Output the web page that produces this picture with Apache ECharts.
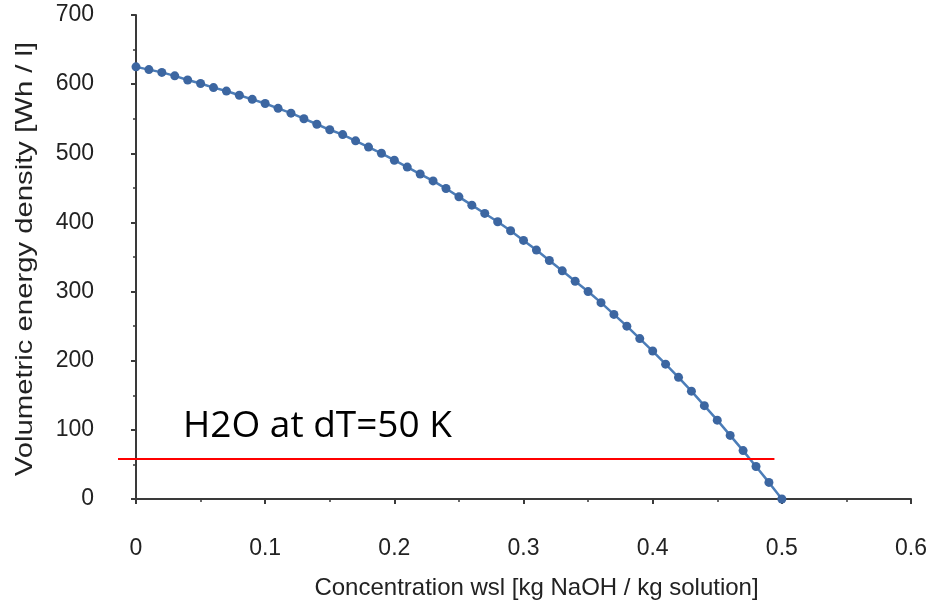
<!DOCTYPE html>
<html>
<head>
<meta charset="utf-8">
<script src="https://cdn.jsdelivr.net/npm/echarts@6/dist/echarts.min.js"></script>
<style>
  html, body { margin: 0; padding: 0; background: #fff; }
  #chart { width: 930px; height: 608px; }
</style>
</head>
<body>
<div id="chart"></div>
<script>
// concentration wsl [kg NaOH / kg solution]
var concentration = [
  0.00, 0.01, 0.02, 0.03, 0.04, 0.05, 0.06, 0.07, 0.08, 0.09,
  0.10, 0.11, 0.12, 0.13, 0.14, 0.15, 0.16, 0.17, 0.18, 0.19,
  0.20, 0.21, 0.22, 0.23, 0.24, 0.25, 0.26, 0.27, 0.28, 0.29,
  0.30, 0.31, 0.32, 0.33, 0.34, 0.35, 0.36, 0.37, 0.38, 0.39,
  0.40, 0.41, 0.42, 0.43, 0.44, 0.45, 0.46, 0.47, 0.48, 0.49,
  0.50
];
// volumetric energy density [Wh / l]
var energyDensity = [
  625, 621, 617, 612, 606, 601, 595, 590, 584, 578,
  572, 565, 558, 550, 542, 534, 527, 518, 509, 500,
  490, 480, 470, 460, 449, 437, 425, 413, 401, 388,
  374, 360, 345, 330, 315, 300, 284, 267, 250, 232,
  214, 195, 176, 156, 135, 114, 92, 70, 47, 24,
  0
];
// H2O reference line (starts a little left of the y axis)
var h2oLineX = [-0.0139, 0.493];
var h2oLineY = 58;
var h2oLabel = 'H2O at dT=50 K';

var xTicks = { min: 0, max: 0.6, interval: 0.1 };
var yTicks = { min: 0, max: 700, interval: 100 };

var labelFont = '"Liberation Sans", Arial, Helvetica, sans-serif';
var axisColor = '#3a3a3a';

var chart = echarts.init(document.getElementById('chart'));

var curve = concentration.map(function (c, i) { return [c, energyDensity[i]]; });
var h2o = h2oLineX.map(function (x) { return [x, h2oLineY]; });

chart.setOption({
  animation: false,
  grid: [
    { left: 136, right: 17, top: 15, bottom: 109 },
    // same plot area, widened to the left so the red line can start before x = 0
    { left: 118, right: 17, top: 15, bottom: 109 }
  ],
  xAxis: [
    {
      type: 'value',
      gridIndex: 0,
      min: xTicks.min, max: xTicks.max, interval: xTicks.interval,
      name: 'Concentration wsl [kg NaOH / kg solution]',
      nameLocation: 'middle',
      nameGap: 77,
      nameTextStyle: { fontFamily: labelFont, fontSize: 24, color: '#222', padding: [0, 0, 0, 26] },
      axisLine: { lineStyle: { color: axisColor, width: 2 } },
      axisTick: { inside: false, length: 5, lineStyle: { color: axisColor, width: 2 } },
      minorTick: { show: true, splitNumber: 2, length: 3, lineStyle: { color: axisColor, width: 1.5 } },
      axisLabel: { margin: 38, fontFamily: labelFont, fontSize: 23, color: '#222' },
      splitLine: { show: false }
    },
    {
      type: 'value',
      gridIndex: 1,
      show: false,
      min: h2oLineX[0], max: xTicks.max
    }
  ],
  yAxis: [
    {
      type: 'value',
      gridIndex: 0,
      min: yTicks.min, max: yTicks.max, interval: yTicks.interval,
      axisLine: { lineStyle: { color: axisColor, width: 2 } },
      axisTick: { inside: false, length: 5, lineStyle: { color: axisColor, width: 2 } },
      minorTick: { show: true, splitNumber: 2, length: 3, lineStyle: { color: axisColor, width: 1.5 } },
      axisLabel: { margin: 42, fontFamily: labelFont, fontSize: 23, color: '#222' },
      splitLine: { show: false }
    },
    {
      type: 'value',
      gridIndex: 1,
      show: false,
      min: yTicks.min, max: yTicks.max
    }
  ],
  series: [
    {
      type: 'line',
      xAxisIndex: 0, yAxisIndex: 0,
      data: curve,
      symbol: 'circle',
      symbolSize: 9,
      showAllSymbol: true,
      itemStyle: { color: '#3c66a1' },
      lineStyle: { color: '#4c7db8', width: 2.5 },
      z: 2
    },
    {
      type: 'line',
      xAxisIndex: 1, yAxisIndex: 1,
      data: h2o,
      showSymbol: false,
      symbol: 'none',
      lineStyle: { color: '#ff0000', width: 2 },
      z: 3
    }
  ],
  graphic: [
    {
      type: 'text',
      left: 183,
      top: 408,
      style: {
        text: h2oLabel,
        font: '37px "Open Sans", "Noto Sans", sans-serif',
        fill: '#000'
      }
    },
    {
      // y axis title, stretched along its length like the source figure
      type: 'text',
      x: 25,
      y: 259,
      rotation: Math.PI / 2,
      scaleX: 1.22,
      style: {
        text: 'Volumetric energy density [Wh / l]',
        font: '24px "Liberation Sans", Arial, Helvetica, sans-serif',
        fill: '#222',
        align: 'center',
        verticalAlign: 'middle'
      }
    }
  ]
});
</script>
</body>
</html>
